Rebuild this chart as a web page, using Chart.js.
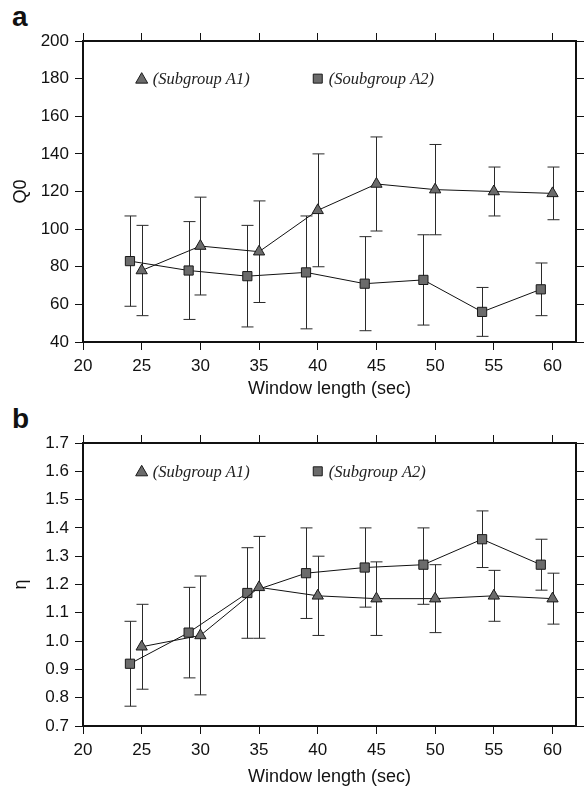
<!DOCTYPE html>
<html>
<head>
<title>Q0 and eta vs window length</title>
<script src="https://cdn.jsdelivr.net/npm/chart.js@4.4.1/dist/chart.umd.min.js"></script>
<style>
  body { margin: 0; background: #fff; width: 586px; height: 788px; position: relative; overflow: hidden; }
  .panel { position: absolute; left: 0; }
  .tag { position: absolute; left: 12px; font: bold 28px "Liberation Sans", Arial, sans-serif; color: #111; }
</style>
</head>
<body>

<div class="tag" style="top:1px">a</div>
<canvas class="panel" id="chartQ0" width="586" height="400" style="top:0"></canvas>

<div class="tag" style="top:403px">b</div>
<canvas class="panel" id="chartEta" width="586" height="388" style="top:400px"></canvas>

<script>
// --- data ---
var winA1 = [25, 30, 35, 40, 45, 50, 55, 60];
var winA2 = [24, 29, 34, 39, 44, 49, 54, 59];

// panel a : Q0
var q0A1   = [78, 91, 88, 110, 124, 121, 120, 119];
var q0A1Lo = [54, 65, 61, 80, 99, 97, 107, 105];
var q0A1Hi = [102, 117, 115, 140, 149, 145, 133, 133];
var q0A2   = [83, 78, 75, 77, 71, 73, 56, 68];
var q0A2Lo = [59, 52, 48, 47, 46, 49, 43, 54];
var q0A2Hi = [107, 104, 102, 107, 96, 97, 69, 82];

// panel b : eta
var etaA1   = [0.98, 1.02, 1.19, 1.16, 1.15, 1.15, 1.16, 1.15];
var etaA1Lo = [0.83, 0.81, 1.01, 1.02, 1.02, 1.03, 1.07, 1.06];
var etaA1Hi = [1.13, 1.23, 1.37, 1.30, 1.28, 1.27, 1.25, 1.24];
var etaA2   = [0.92, 1.03, 1.17, 1.24, 1.26, 1.27, 1.36, 1.27];
var etaA2Lo = [0.77, 0.87, 1.01, 1.08, 1.12, 1.13, 1.26, 1.18];
var etaA2Hi = [1.07, 1.19, 1.33, 1.40, 1.40, 1.40, 1.46, 1.36];

var xTicks   = [20, 25, 30, 35, 40, 45, 50, 55, 60];
var q0Ticks  = [40, 60, 80, 100, 120, 140, 160, 180, 200];
var etaTicks = [0.7, 0.8, 0.9, 1.0, 1.1, 1.2, 1.3, 1.4, 1.5, 1.6, 1.7];

var labelsQ0  = ['(Subgroup A1)', '(Soubgroup A2)'];
var labelsEta = ['(Subgroup A1)', '(Subgroup A2)'];

var MARK_FILL = '#6b6b6b';
var MARK_EDGE = '#1a1a1a';
var SANS = '"Liberation Sans", Arial, sans-serif';

function pts(xs, ys) {
    return xs.map(function (x, i) { return { x: x, y: ys[i] }; });
}

function drawMarker(ctx, style, x, y) {
    ctx.save();
    ctx.fillStyle = MARK_FILL;
    ctx.strokeStyle = MARK_EDGE;
    ctx.lineWidth = 1;
    ctx.beginPath();
    if (style === 'triangle') {
        ctx.moveTo(x, y - 6);
        ctx.lineTo(x + 6, y + 4.5);
        ctx.lineTo(x - 6, y + 4.5);
        ctx.closePath();
    } else {
        ctx.rect(x - 4.5, y - 4.5, 9, 9);
    }
    ctx.fill();
    ctx.stroke();
    ctx.restore();
}

// error bars with caps, drawn under the markers
var errorBars = {
    id: 'errorBars',
    beforeDatasetsDraw: function (chart) {
        var ctx = chart.ctx, sx = chart.scales.x, sy = chart.scales.y;
        ctx.save();
        ctx.strokeStyle = '#2a2a2a';
        ctx.lineWidth = 1;
        chart.data.datasets.forEach(function (ds) {
            ds.data.forEach(function (p, i) {
                var px = Math.round(sx.getPixelForValue(p.x)) + 0.5;
                var top = sy.getPixelForValue(ds.errHi[i]);
                var bot = sy.getPixelForValue(ds.errLo[i]);
                ctx.beginPath();
                ctx.moveTo(px, top); ctx.lineTo(px, bot);
                ctx.moveTo(px - 6, top); ctx.lineTo(px + 6, top);
                ctx.moveTo(px - 6, bot); ctx.lineTo(px + 6, bot);
                ctx.stroke();
            });
        });
        ctx.restore();
    }
};

// legend written inside the frame, anchored at data coordinates like the original
var insideLegend = {
    id: 'insideLegend',
    afterDatasetsDraw: function (chart, args, opts) {
        var ctx = chart.ctx, sx = chart.scales.x, sy = chart.scales.y;
        ctx.save();
        ctx.font = 'italic 16.5px "Liberation Serif", "Times New Roman", serif';
        ctx.fillStyle = '#222';
        ctx.textBaseline = 'middle';
        opts.items.forEach(function (it) {
            var px = sx.getPixelForValue(it.x), py = sy.getPixelForValue(it.y);
            drawMarker(ctx, it.style, px, py);
            ctx.fillText(it.text, px + 11, py + 1);
        });
        ctx.restore();
    }
};

function seriesSet(label, xs, ys, lo, hi, style) {
    return {
        label: label,
        data: pts(xs, ys),
        errLo: lo,
        errHi: hi,
        borderColor: '#111',
        borderWidth: 1,
        pointStyle: style,
        pointRadius: 6.5,
        pointBackgroundColor: MARK_FILL,
        pointBorderColor: MARK_EDGE,
        pointBorderWidth: 1,
        tension: 0
    };
}

function axisBox(side, size) {
    return function (scale) {
        if (side === 'h') scale.height = size; else scale.width = size;
    };
}

function makeChart(id, cfg) {
    var fixTicks = function (list) {
        return function (scale) { scale.ticks = list.map(function (v) { return { value: v }; }); };
    };
    var gridOut = { drawOnChartArea: false, tickLength: 8, color: '#111', lineWidth: 1 };
    var border = { display: true, width: 2, color: '#111' };
    var tickFont = { family: SANS, size: 17 };

    return new Chart(document.getElementById(id).getContext('2d'), {
        type: 'line',
        data: {
            datasets: [
                seriesSet(cfg.names[0], winA1, cfg.a1, cfg.a1Lo, cfg.a1Hi, 'triangle'),
                seriesSet(cfg.names[1], winA2, cfg.a2, cfg.a2Lo, cfg.a2Hi, 'rect')
            ]
        },
        options: {
            responsive: false,
            animation: false,
            devicePixelRatio: 1,
            layout: { padding: 0 },
            plugins: {
                legend: { display: false },
                tooltip: { enabled: false },
                insideLegend: {
                    items: [
                        { x: 25, y: cfg.legendY, style: 'triangle', text: cfg.names[0] },
                        { x: 40, y: cfg.legendY, style: 'rect', text: cfg.names[1] }
                    ]
                }
            },
            scales: {
                x: {
                    type: 'linear', position: 'bottom', min: 20, max: 62,
                    grid: gridOut, border: border,
                    afterBuildTicks: fixTicks(xTicks),
                    afterFit: axisBox('h', cfg.bottomH),
                    ticks: { font: tickFont, color: '#111', padding: 6, maxRotation: 0 },
                    title: { display: true, text: 'Window length (sec)', color: '#111',
                             font: { family: SANS, size: 18 }, padding: { top: 2, bottom: 0 } }
                },
                x2: {
                    type: 'linear', position: 'top', min: 20, max: 62,
                    grid: gridOut, border: border,
                    afterBuildTicks: fixTicks(xTicks),
                    afterFit: axisBox('h', cfg.topH),
                    ticks: { display: false }
                },
                y: {
                    type: 'linear', position: 'left', min: cfg.yMin, max: cfg.yMax,
                    grid: gridOut, border: border,
                    afterBuildTicks: fixTicks(cfg.yTicks),
                    afterFit: axisBox('w', 83),
                    ticks: { font: tickFont, color: '#111', padding: 6,
                             callback: cfg.fmt },
                    title: { display: true, text: cfg.yTitle, color: '#111',
                             font: { family: SANS, size: 18 }, padding: { top: 10, bottom: 0 } }
                },
                y2: {
                    type: 'linear', position: 'right', min: cfg.yMin, max: cfg.yMax,
                    grid: gridOut, border: border,
                    afterBuildTicks: fixTicks(cfg.yTicks),
                    afterFit: axisBox('w', 10),
                    ticks: { display: false }
                }
            }
        },
        plugins: [errorBars, insideLegend]
    });
}

makeChart('chartQ0', {
    names: labelsQ0,
    a1: q0A1, a1Lo: q0A1Lo, a1Hi: q0A1Hi,
    a2: q0A2, a2Lo: q0A2Lo, a2Hi: q0A2Hi,
    yMin: 40, yMax: 200, yTicks: q0Ticks, yTitle: 'Q0',
    fmt: function (v) { return String(v); },
    legendY: 180, topH: 41, bottomH: 58
});

makeChart('chartEta', {
    names: labelsEta,
    a1: etaA1, a1Lo: etaA1Lo, a1Hi: etaA1Hi,
    a2: etaA2, a2Lo: etaA2Lo, a2Hi: etaA2Hi,
    yMin: 0.7, yMax: 1.7, yTicks: etaTicks, yTitle: 'η',
    fmt: function (v) { return Number(v).toFixed(1); },
    legendY: 1.6, topH: 43, bottomH: 62
});
</script>

</body>
</html>
